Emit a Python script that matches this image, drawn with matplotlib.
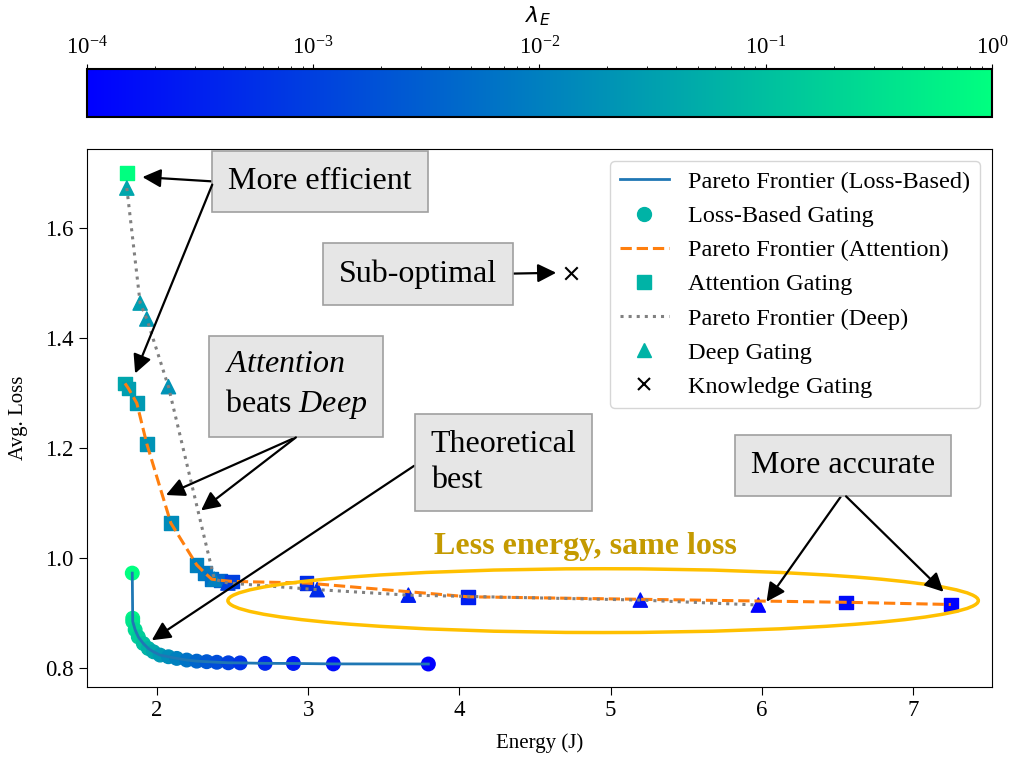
import matplotlib
matplotlib.use("Agg")
import matplotlib.pyplot as plt
from matplotlib.colors import LogNorm
from matplotlib.cm import ScalarMappable
from matplotlib.lines import Line2D
from matplotlib.patches import Ellipse

plt.rcParams['font.family'] = ['Liberation Serif', 'DejaVu Serif']
# serif italic for the "custom" math font (used only in one annotation)
plt.rcParams['mathtext.rm'] = 'Liberation Serif'
plt.rcParams['mathtext.it'] = 'Liberation Serif:italic'

# Loss-based gating (energy in J, avg loss, lambda_E)
loss_energy = [1.838, 1.841, 1.841, 1.857, 1.878, 1.911, 1.944, 1.978, 2.022, 2.077, 2.132,
               2.198, 2.264, 2.330, 2.397, 2.473, 2.551, 2.716, 2.903, 3.167, 3.795]
loss_loss = [0.973, 0.891, 0.885, 0.870, 0.857, 0.845, 0.836, 0.830, 0.824, 0.821, 0.818,
             0.815, 0.813, 0.812, 0.811, 0.810, 0.8098, 0.809, 0.8088, 0.808, 0.8078]
loss_lam = [1.0, 0.631, 0.398, 0.251, 0.158, 0.1, 0.063, 0.04, 0.025, 0.016, 0.01,
            0.0063, 0.004, 0.0025, 0.0016, 0.001, 0.00063, 0.0004, 0.00025, 0.00016, 0.0001]

# Attention gating
att_energy = [1.802, 1.790, 1.812, 1.868, 1.934, 2.093, 2.264, 2.319, 2.363, 2.420, 2.496,
              2.990, 4.058, 6.556, 7.248]
att_loss = [1.700, 1.318, 1.309, 1.282, 1.208, 1.064, 0.988, 0.973, 0.962, 0.960, 0.958,
            0.955, 0.930, 0.920, 0.916]
att_lam = [1.0, 0.04, 0.03, 0.025, 0.02, 0.015, 0.01, 0.008, 0.006, 0.004, 0.001,
           0.0005, 0.0003, 0.00015, 0.0001]

# Deep gating
deep_energy = [1.802, 1.890, 1.934, 2.077, 2.380, 2.470, 3.060, 3.663, 5.196, 5.976]
deep_loss = [1.673, 1.464, 1.435, 1.312, 0.962, 0.955, 0.943, 0.933, 0.924, 0.915]
deep_lam = [0.04, 0.03, 0.025, 0.02, 0.01, 0.001, 0.0005, 0.0003, 0.0002, 0.0001]

# Knowledge gating
know_energy = [4.738]
know_loss = [1.519]


def pareto(energy, loss):
    """ points not dominated in (energy, loss), sorted by energy """
    pts = sorted(zip(energy, loss))
    xs, ys = [], []
    best = float('inf')
    for e, l in pts:
        if l <= best:
            xs.append(e)
            ys.append(l)
            best = l
    return xs, ys


def boxNote(ax, text, xytext, targets, relpos=(0.5, 0.5), fontsize=23, **kw):
    """ text in a grey box with one arrow per target """
    bbox = dict(boxstyle='square,pad=0.5', fc='#e6e6e6', ec='#a0a0a0', lw=1.2)
    arrow = dict(arrowstyle='-|>', color='black', lw=1.6, mutation_scale=28,
                 shrinkA=0, shrinkB=0, relpos=relpos)
    for i, xy in enumerate(targets):
        if i == 0:
            ax.annotate(text, xy=xy, xytext=xytext, fontsize=fontsize, ha='center', va='center',
                        bbox=bbox, arrowprops=arrow, zorder=6, **kw)
        else:
            ax.annotate(text, xy=xy, xytext=xytext, fontsize=fontsize, ha='center', va='center',
                        color='none', bbox=dict(bbox, fc='none', ec='none'),
                        arrowprops=arrow, zorder=6, **kw)


cmap = plt.get_cmap('winter')
norm = LogNorm(vmin=1e-4, vmax=1)

fig = plt.figure(figsize=(10.12, 7.61), dpi=100)
ax = fig.add_axes([0.0857, 0.0976, 0.8945, 0.7066])
cax = fig.add_axes([0.0857, 0.846, 0.8945, 0.063])

px, py = pareto(loss_energy, loss_loss)
l1, = ax.plot(px, py, color='C0', lw=2)
ax.scatter(loss_energy, loss_loss, c=loss_lam, cmap=cmap, norm=norm, marker='o', s=95)

px, py = pareto(att_energy, att_loss)
l2, = ax.plot(px, py, color='C1', lw=2.2, ls='--')
ax.scatter(att_energy, att_loss, c=att_lam, cmap=cmap, norm=norm, marker='s', s=95)

px, py = pareto(deep_energy, deep_loss)
l3, = ax.plot(px, py, color='gray', lw=2.2, ls=':')
ax.scatter(deep_energy, deep_loss, c=deep_lam, cmap=cmap, norm=norm, marker='^', s=105)

ax.scatter(know_energy, know_loss, color='black', marker='x', s=80, lw=1.5)

ax.set_xlim(1.537, 7.52)
ax.set_ylim(0.7665, 1.744)
ax.set_xlabel('Energy (J)', fontsize=15, labelpad=9)
ax.set_ylabel('Avg. Loss', fontsize=15, labelpad=12)
ax.tick_params(labelsize=16.5, length=6)

mid = cmap(0.7)
handles = [l1, Line2D([], [], ls='', marker='o', color=mid, markersize=10),
           l2, Line2D([], [], ls='', marker='s', color=mid, markersize=10),
           l3, Line2D([], [], ls='', marker='^', color=mid, markersize=10),
           Line2D([], [], ls='', marker='x', color='black', markersize=9, mew=1.5)]
labels = ['Pareto Frontier (Loss-Based)', 'Loss-Based Gating', 'Pareto Frontier (Attention)',
          'Attention Gating', 'Pareto Frontier (Deep)', 'Deep Gating', 'Knowledge Gating']
ax.legend(handles, labels, loc='upper right', fontsize=17.5, labelspacing=0.5)

# annotations
ax.add_patch(Ellipse((4.95, 0.923), 4.96, 0.116, fill=False, ec='#FFC000', lw=2.5, zorder=4))
ax.text(4.83, 1.022, 'Less energy, same loss', color='#C49A00', fontsize=23,
        fontweight='bold', ha='center', va='center')
boxNote(ax, 'More efficient', (3.079, 1.685), [(1.905, 1.693), (1.857, 1.336)],
        relpos=(-0.08, 0.5))
boxNote(ax, 'Sub-optimal', (3.727, 1.517), [(4.64, 1.519)], relpos=(1.0, 0.5))
boxNote(ax, r'$\mathit{Attention}$' + '\n' + r'beats $\mathit{Deep}$', (2.921, 1.314),
        [(2.061, 1.115), (2.293, 1.087)], relpos=(0.5, -0.22),
        math_fontfamily='custom', multialignment='left', linespacing=1.35)
boxNote(ax, 'Theoretical\nbest', (4.292, 1.174), [(1.967, 0.851)], relpos=(-0.08, 0.5),
        multialignment='left', linespacing=1.35)
boxNote(ax, 'More accurate', (6.536, 1.168), [(6.03, 0.921), (7.20, 0.939)],
        relpos=(0.5, -0.45))

# colorbar on top
cb = fig.colorbar(ScalarMappable(norm=norm, cmap=cmap), cax=cax, orientation='horizontal')
cax.xaxis.set_ticks_position('top')
cax.tick_params(labelsize=16.5)
cb.outline.set_linewidth(1.5)
cax.text(0.498, 2.1, r'$\lambda_E$', transform=cax.transAxes, ha='center', va='center',
         fontsize=16)

fig.savefig('out.png', dpi=100)
